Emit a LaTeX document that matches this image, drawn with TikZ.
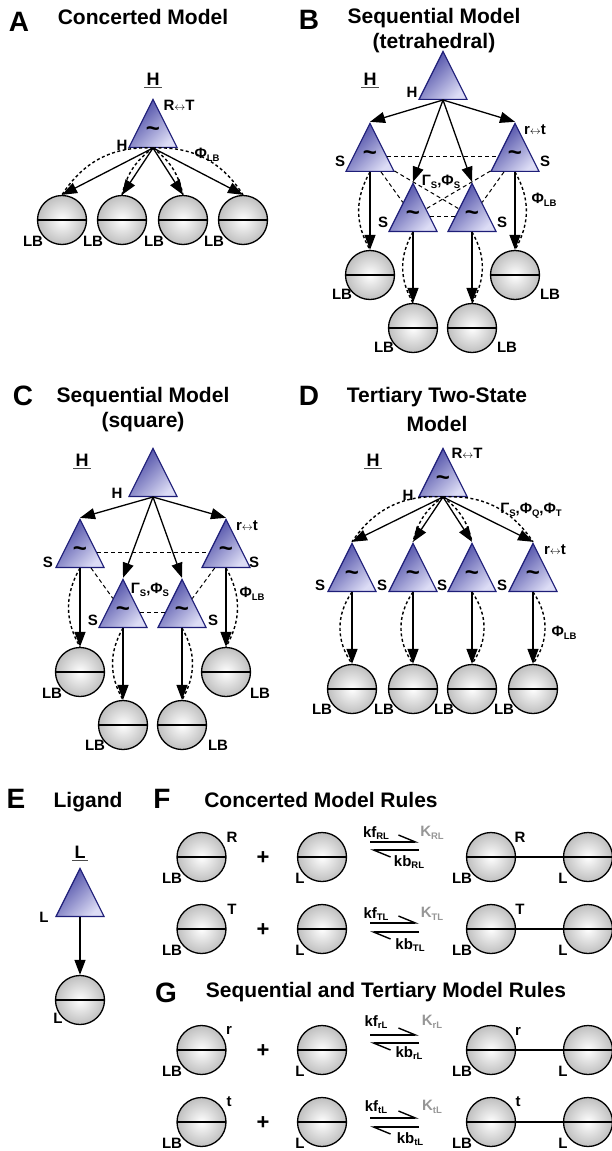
\documentclass[tikz,border=0pt]{standalone}
\usepackage{fontspec}
\setmainfont{Liberation Sans}
\usetikzlibrary{shapes.geometric,arrows.meta}

\definecolor{triDark}{RGB}{65,65,160}
\definecolor{triLight}{RGB}{220,220,245}
\definecolor{triEdge}{RGB}{30,30,120}
\definecolor{kGray}{RGB}{150,150,150}

\newcommand{\pnlfont}{\fontsize{28}{30}\selectfont\bfseries}
\newcommand{\ttlfont}{\fontsize{21}{25}\selectfont\bfseries}
\newcommand{\lblfont}{\fontsize{15}{17}\selectfont\bfseries}
\newcommand{\lsub}[1]{\raisebox{-0.35ex}{\fontsize{9.5}{10}\selectfont #1}}
\newcommand{\lra}{{\fontsize{11}{11}\selectfont$\leftrightarrow$}}

\tikzset{
  tri/.style={isosceles triangle, isosceles triangle stretches, shape border rotate=90,
    minimum width=48, minimum height=48, inner sep=0pt, draw=triEdge, line width=1.2pt,
    top color=triDark, bottom color=triLight, shading angle=45},
  lbball/.style={circle, minimum size=49, inner sep=0pt, draw=black, line width=1.3pt,
    inner color=white, outer color=black!25,
    path picture={\draw[line width=1.3pt] (path picture bounding box.west) -- (path picture bounding box.east);}},
  tld/.style={font=\fontsize{24}{24}\selectfont\bfseries, inner sep=0pt},
  lbl/.style={font=\lblfont, inner sep=0pt},
  pnl/.style={font=\pnlfont, inner sep=0pt, anchor=base},
  ttl/.style={font=\ttlfont, inner sep=0pt, anchor=base, align=center},
  hul/.style={font=\fontsize{18}{20}\selectfont\bfseries, inner sep=2pt},
  uline/.style={line width=1.3pt, black!70},
  arr/.style={line width=1.3pt, -{Triangle[length=15pt,width=11pt]}},
  dsh/.style={line width=1.4pt, dash pattern=on 3pt off 2.5pt},
  lnk/.style={line width=1pt, dash pattern=on 4pt off 3pt},
  hrp/.style={line width=1.4pt, -{Straight Barb[harpoon, length=17pt, width=14pt]}},
  plus/.style={font=\fontsize{22}{22}\selectfont\bfseries, inner sep=0pt},
}

\begin{document}
\begin{tikzpicture}[x=1pt,y=1pt]
\useasboundingbox (0,0) rectangle (612,-1151);

% A: concerted model
\node[pnl] (pA) at (19,-31) {A};
\node[ttl] (tA) at (143,-24) {Concerted Model};
\node[hul] (uA) at (153,-79) {H};
\draw[uline] (uA.south west) -- (uA.south east);
\node[tri, anchor=south] (triA) at (153,-148) {};
\node[tld] (tlA) at ([yshift=16]triA.south) {\textasciitilde};
\node[lbl] (hA) at (122,-145) {H};
\node[lbl] (rtA) at (179,-105) {R\lra T};
\node[lbl] (phA) at (207,-155) {Φ\lsub{LB}};
\node[lbball] (cA1) at (62,-220) {};
\node[lbball] (cA2) at (122,-220) {};
\node[lbball] (cA3) at (183,-220) {};
\node[lbball] (cA4) at (243,-220) {};
\node[lbl] (lA1) at (33,-241) {LB};
\node[lbl] (lA2) at (93,-241) {LB};
\node[lbl] (lA3) at (154,-241) {LB};
\node[lbl] (lA4) at (214,-241) {LB};
\draw[arr] (triA.south) -- (cA1.north);
\draw[arr] (triA.south) -- (cA2.north);
\draw[arr] (triA.south) -- (cA3.north);
\draw[arr] (triA.south) -- (cA4.north);
\draw[dsh] (triA.south) to[bend right=30] (cA1.north);
\draw[dsh] (triA.south) to[bend right=20] (cA2.north);
\draw[dsh] (triA.south) to[bend left=20] (cA3.north);
\draw[dsh] (triA.south) to[bend left=30] (cA4.north);

% B: sequential model, tetrahedral
\node[pnl] (pB) at (309,-29) {B};
\node[ttl, anchor=north] (tB) at (434,-8.5) {Sequential Model\\(tetrahedral)};
\node[hul] (uB) at (370,-79) {H};
\draw[uline] (uB.south west) -- (uB.south east);
\node[tri, anchor=south] (triB) at (443,-100) {};
\node[lbl] (hB) at (412,-92) {H};
\node[tri, anchor=south] (sB1) at (370,-172) {};
\node[tri, anchor=south] (sB2) at (515,-172) {};
\node[tri, anchor=south] (sB3) at (413,-232) {};
\node[tri, anchor=south] (sB4) at (472,-232) {};
\node[tld] (tlB1) at ([yshift=16]sB1.south) {\textasciitilde};
\node[tld] (tlB2) at ([yshift=16]sB2.south) {\textasciitilde};
\node[tld] (tlB3) at ([yshift=16]sB3.south) {\textasciitilde};
\node[tld] (tlB4) at ([yshift=16]sB4.south) {\textasciitilde};
\node[lbl] (sbB1) at (340,-161) {S};
\node[lbl] (sbB2) at (545,-161) {S};
\node[lbl] (sbB3) at (383,-222) {S};
\node[lbl] (sbB4) at (502,-222) {S};
\node[lbl] (rtB) at (535,-130) {r\lra t};
\node[lbl] (gpB) at (441,-182) {Γ\lsub{S},Φ\lsub{S}};
\node[lbl] (phB) at (544,-200) {Φ\lsub{LB}};
\node[lbball] (cB1) at (370,-275) {};
\node[lbball] (cB2) at (515,-275) {};
\node[lbball] (cB3) at (413,-328) {};
\node[lbball] (cB4) at (472,-328) {};
\node[lbl] (lB1) at (342,-294) {LB};
\node[lbl] (lB2) at (550,-294) {LB};
\node[lbl] (lB3) at (384,-347) {LB};
\node[lbl] (lB4) at (507,-347) {LB};
\draw[lnk] (sB1) -- (sB2);
\draw[lnk] (sB3) -- (sB4);
\draw[lnk] (sB1) -- (sB3);
\draw[lnk] (sB2) -- (sB4);
\draw[lnk] (sB1) -- (sB4);
\draw[lnk] (sB2) -- (sB3);
\draw[arr] (triB.south) -- (sB1.north);
\draw[arr] (triB.south) -- (sB2.north);
\draw[arr] (triB.south) -- (sB3.north);
\draw[arr] (triB.south) -- (sB4.north);
\draw[arr] (sB1.south) -- (cB1.north);
\draw[arr] (sB2.south) -- (cB2.north);
\draw[arr] (sB3.south) -- (cB3.north);
\draw[arr] (sB4.south) -- (cB4.north);
\draw[dsh] (sB1.south) to[bend right=30] (cB1.north);
\draw[dsh] (sB2.south) to[bend left=30] (cB2.north);
\draw[dsh] (sB3.south) to[bend right=30] (cB3.north);
\draw[dsh] (sB4.south) to[bend left=30] (cB4.north);

% C: sequential model, square
\node[pnl] (pC) at (23,-405) {C};
\node[ttl, anchor=north] (tC) at (143,-387.5) {Sequential Model\\(square)};
\node[hul] (uC) at (82,-460) {H};
\draw[uline] (uC.south west) -- (uC.south east);
\node[tri, anchor=south] (triC) at (153,-497) {};
\node[lbl] (hC) at (117,-493) {H};
\node[tri, anchor=south] (sC1) at (80,-568) {};
\node[tri, anchor=south] (sC2) at (226,-568) {};
\node[tri, anchor=south] (sC3) at (123,-628) {};
\node[tri, anchor=south] (sC4) at (182,-628) {};
\node[tld] (tlC1) at ([yshift=16]sC1.south) {\textasciitilde};
\node[tld] (tlC2) at ([yshift=16]sC2.south) {\textasciitilde};
\node[tld] (tlC3) at ([yshift=16]sC3.south) {\textasciitilde};
\node[tld] (tlC4) at ([yshift=16]sC4.south) {\textasciitilde};
\node[lbl] (sbC1) at (48,-562) {S};
\node[lbl] (sbC2) at (254,-562) {S};
\node[lbl] (sbC3) at (93,-620) {S};
\node[lbl] (sbC4) at (213,-620) {S};
\node[lbl] (rtC) at (247,-526) {r\lra t};
\node[lbl] (gpC) at (150,-590) {Γ\lsub{S},Φ\lsub{S}};
\node[lbl] (phC) at (252,-594) {Φ\lsub{LB}};
\node[lbball] (cC1) at (80,-672) {};
\node[lbball] (cC2) at (226,-672) {};
\node[lbball] (cC3) at (123,-725) {};
\node[lbball] (cC4) at (182,-725) {};
\node[lbl] (lC1) at (52,-693) {LB};
\node[lbl] (lC2) at (260,-693) {LB};
\node[lbl] (lC3) at (95,-745) {LB};
\node[lbl] (lC4) at (218,-745) {LB};
\draw[lnk] (sC1) -- (sC2);
\draw[lnk] (sC3) -- (sC4);
\draw[lnk] (sC1) -- (sC3);
\draw[lnk] (sC2) -- (sC4);
\draw[arr] (triC.south) -- (sC1.north);
\draw[arr] (triC.south) -- (sC2.north);
\draw[arr] (triC.south) -- (sC3.north);
\draw[arr] (triC.south) -- (sC4.north);
\draw[arr] (sC1.south) -- (cC1.north);
\draw[arr] (sC2.south) -- (cC2.north);
\draw[arr] (sC3.south) -- (cC3.north);
\draw[arr] (sC4.south) -- (cC4.north);
\draw[dsh] (sC1.south) to[bend right=30] (cC1.north);
\draw[dsh] (sC2.south) to[bend left=30] (cC2.north);
\draw[dsh] (sC3.south) to[bend right=30] (cC3.north);
\draw[dsh] (sC4.south) to[bend left=30] (cC4.north);

% D: tertiary two-state model
\node[pnl] (pD) at (309,-405) {D};
\node[ttl, anchor=north] (tD) at (437,-387.5) {Tertiary Two-State\\[4pt]Model};
\node[hul] (uD) at (373,-460) {H};
\draw[uline] (uD.south west) -- (uD.south east);
\node[tri, anchor=south] (triD) at (443,-497) {};
\node[tld] (tlD) at ([yshift=16]triD.south) {\textasciitilde};
\node[lbl] (hD) at (408,-495) {H};
\node[lbl] (rtD) at (467,-453) {R\lra T};
\node[lbl] (gpD) at (531,-511) {Γ\lsub{S},Φ\lsub{Q},Φ\lsub{T}};
\node[tri, anchor=south] (sD1) at (352,-592) {};
\node[tri, anchor=south] (sD2) at (413,-592) {};
\node[tri, anchor=south] (sD3) at (472,-592) {};
\node[tri, anchor=south] (sD4) at (533,-592) {};
\node[tld] (tlD1) at ([yshift=16]sD1.south) {\textasciitilde};
\node[tld] (tlD2) at ([yshift=16]sD2.south) {\textasciitilde};
\node[tld] (tlD3) at ([yshift=16]sD3.south) {\textasciitilde};
\node[tld] (tlD4) at ([yshift=16]sD4.south) {\textasciitilde};
\node[lbl] (sbD1) at (320,-585) {S};
\node[lbl] (sbD2) at (382,-585) {S};
\node[lbl] (sbD3) at (442,-585) {S};
\node[lbl] (sbD4) at (502,-585) {S};
\node[lbl] (rtD2) at (555,-550) {r\lra t};
\node[lbl] (phD) at (564,-633) {Φ\lsub{LB}};
\node[lbball] (cD1) at (352,-689) {};
\node[lbball] (cD2) at (413,-689) {};
\node[lbball] (cD3) at (472,-689) {};
\node[lbball] (cD4) at (533,-689) {};
\node[lbl] (lD1) at (322,-709) {LB};
\node[lbl] (lD2) at (384,-709) {LB};
\node[lbl] (lD3) at (444,-709) {LB};
\node[lbl] (lD4) at (504,-709) {LB};
\draw[arr] (triD.south) -- (sD1.north);
\draw[arr] (triD.south) -- (sD2.north);
\draw[arr] (triD.south) -- (sD3.north);
\draw[arr] (triD.south) -- (sD4.north);
\draw[dsh] (triD.south) to[bend right=30] (sD1.north);
\draw[dsh] (triD.south) to[bend right=20] (sD2.north);
\draw[dsh] (triD.south) to[bend left=20] (sD3.north);
\draw[dsh] (triD.south) to[bend left=30] (sD4.north);
\draw[arr] (sD1.south) -- (cD1.north);
\draw[arr] (sD2.south) -- (cD2.north);
\draw[arr] (sD3.south) -- (cD3.north);
\draw[arr] (sD4.south) -- (cD4.north);
\draw[dsh] (sD1.south) to[bend right=35] (cD1.north);
\draw[dsh] (sD2.south) to[bend right=35] (cD2.north);
\draw[dsh] (sD3.south) to[bend left=35] (cD3.north);
\draw[dsh] (sD4.south) to[bend left=35] (cD4.north);

% E: ligand
\node[pnl] (pE) at (16,-808) {E};
\node[ttl] (tE) at (88,-807) {Ligand};
\node[hul] (uE) at (80,-852) {L};
\draw[uline] (uE.south west) -- (uE.south east);
\node[tri, anchor=south] (triE) at (80,-917) {};
\node[lbl] (lE) at (44,-917) {L};
\node[lbball] (cE) at (80,-1000) {};
\node[lbl] (lcE) at (58,-1018) {L};
\draw[arr] (triE.south) -- (cE.north);

% F: concerted model rules
\node[pnl] (pF) at (162,-808) {F};
\node[ttl] (tF) at (321,-807) {Concerted Model Rules};
\node[lbball] (cF1) at (201.5,-857) {};
\node[lbball] (cF2) at (322,-857) {};
\node[lbball] (cF3) at (491,-857) {};
\node[lbball] (cF4) at (588,-857) {};
\node[lbl] (sF1) at (232,-837) {R};
\node[lbl] (sF3) at (520,-837) {R};
\node[lbl] (lF1) at (172,-878) {LB};
\node[lbl] (lF2) at (300,-878) {L};
\node[lbl] (lF3) at (462,-878) {LB};
\node[lbl] (lF4) at (563,-878) {L};
\node[plus] (plF1) at (263,-858) {+};
\node[lbl] (kfF1) at (376,-833) {kf\lsub{RL}};
\node[lbl, kGray] (KF1) at (432,-833) {K\lsub{RL}};
\node[lbl] (kbF1) at (409,-862) {kb\lsub{RL}};
\draw[hrp] (370,-842) -- (419,-842);
\draw[hrp] (419,-850) -- (370,-850);
\draw[line width=1.3pt] (cF3) -- (cF4);
\node[lbball] (cF5) at (201.5,-929) {};
\node[lbball] (cF6) at (322,-929) {};
\node[lbball] (cF7) at (491,-929) {};
\node[lbball] (cF8) at (588,-929) {};
\node[lbl] (sF5) at (232,-909) {T};
\node[lbl] (sF7) at (520,-909) {T};
\node[lbl] (lF5) at (172,-950) {LB};
\node[lbl] (lF6) at (300,-950) {L};
\node[lbl] (lF7) at (462,-950) {LB};
\node[lbl] (lF8) at (563,-950) {L};
\node[plus] (plF2) at (263,-930) {+};
\node[lbl] (kfF2) at (376,-914) {kf\lsub{TL}};
\node[lbl, kGray] (KF2) at (432,-914) {K\lsub{TL}};
\node[lbl] (kbF2) at (410,-945) {kb\lsub{TL}};
\draw[hrp] (370,-923) -- (419,-923);
\draw[hrp] (419,-932) -- (370,-932);
\draw[line width=1.3pt] (cF7) -- (cF8);

% G: sequential and tertiary model rules
\node[pnl] (pG) at (166,-1002) {G};
\node[ttl] (tG) at (386,-997) {Sequential and Tertiary Model Rules};
\node[lbball] (cG1) at (201.5,-1050) {};
\node[lbball] (cG2) at (322,-1050) {};
\node[lbball] (cG3) at (491,-1050) {};
\node[lbball] (cG4) at (588,-1050) {};
\node[lbl] (sG1) at (229,-1030) {r};
\node[lbl] (sG3) at (518,-1031) {r};
\node[lbl] (lG1) at (172,-1071) {LB};
\node[lbl] (lG2) at (300,-1071) {L};
\node[lbl] (lG3) at (462,-1071) {LB};
\node[lbl] (lG4) at (563,-1071) {L};
\node[plus] (plG1) at (263,-1051) {+};
\node[lbl] (kfG1) at (376,-1022) {kf\lsub{rL}};
\node[lbl, kGray] (KG1) at (432,-1022) {K\lsub{rL}};
\node[lbl] (kbG1) at (409,-1053) {kb\lsub{rL}};
\draw[hrp] (370,-1035) -- (419,-1035);
\draw[hrp] (419,-1043) -- (370,-1043);
\draw[line width=1.3pt] (cG3) -- (cG4);
\node[lbball] (cG5) at (201.5,-1122) {};
\node[lbball] (cG6) at (322,-1122) {};
\node[lbball] (cG7) at (491,-1122) {};
\node[lbball] (cG8) at (588,-1122) {};
\node[lbl] (sG5) at (229,-1102) {t};
\node[lbl] (sG7) at (518,-1102) {t};
\node[lbl] (lG5) at (172,-1143) {LB};
\node[lbl] (lG6) at (300,-1143) {L};
\node[lbl] (lG7) at (462,-1143) {LB};
\node[lbl] (lG8) at (563,-1143) {L};
\node[plus] (plG2) at (263,-1123) {+};
\node[lbl] (kfG2) at (376,-1107) {kf\lsub{tL}};
\node[lbl, kGray] (KG2) at (432,-1107) {K\lsub{tL}};
\node[lbl] (kbG2) at (410,-1139) {kb\lsub{tL}};
\draw[hrp] (370,-1118) -- (419,-1118);
\draw[hrp] (419,-1127) -- (370,-1127);
\draw[line width=1.3pt] (cG7) -- (cG8);
\end{tikzpicture}
\end{document}
